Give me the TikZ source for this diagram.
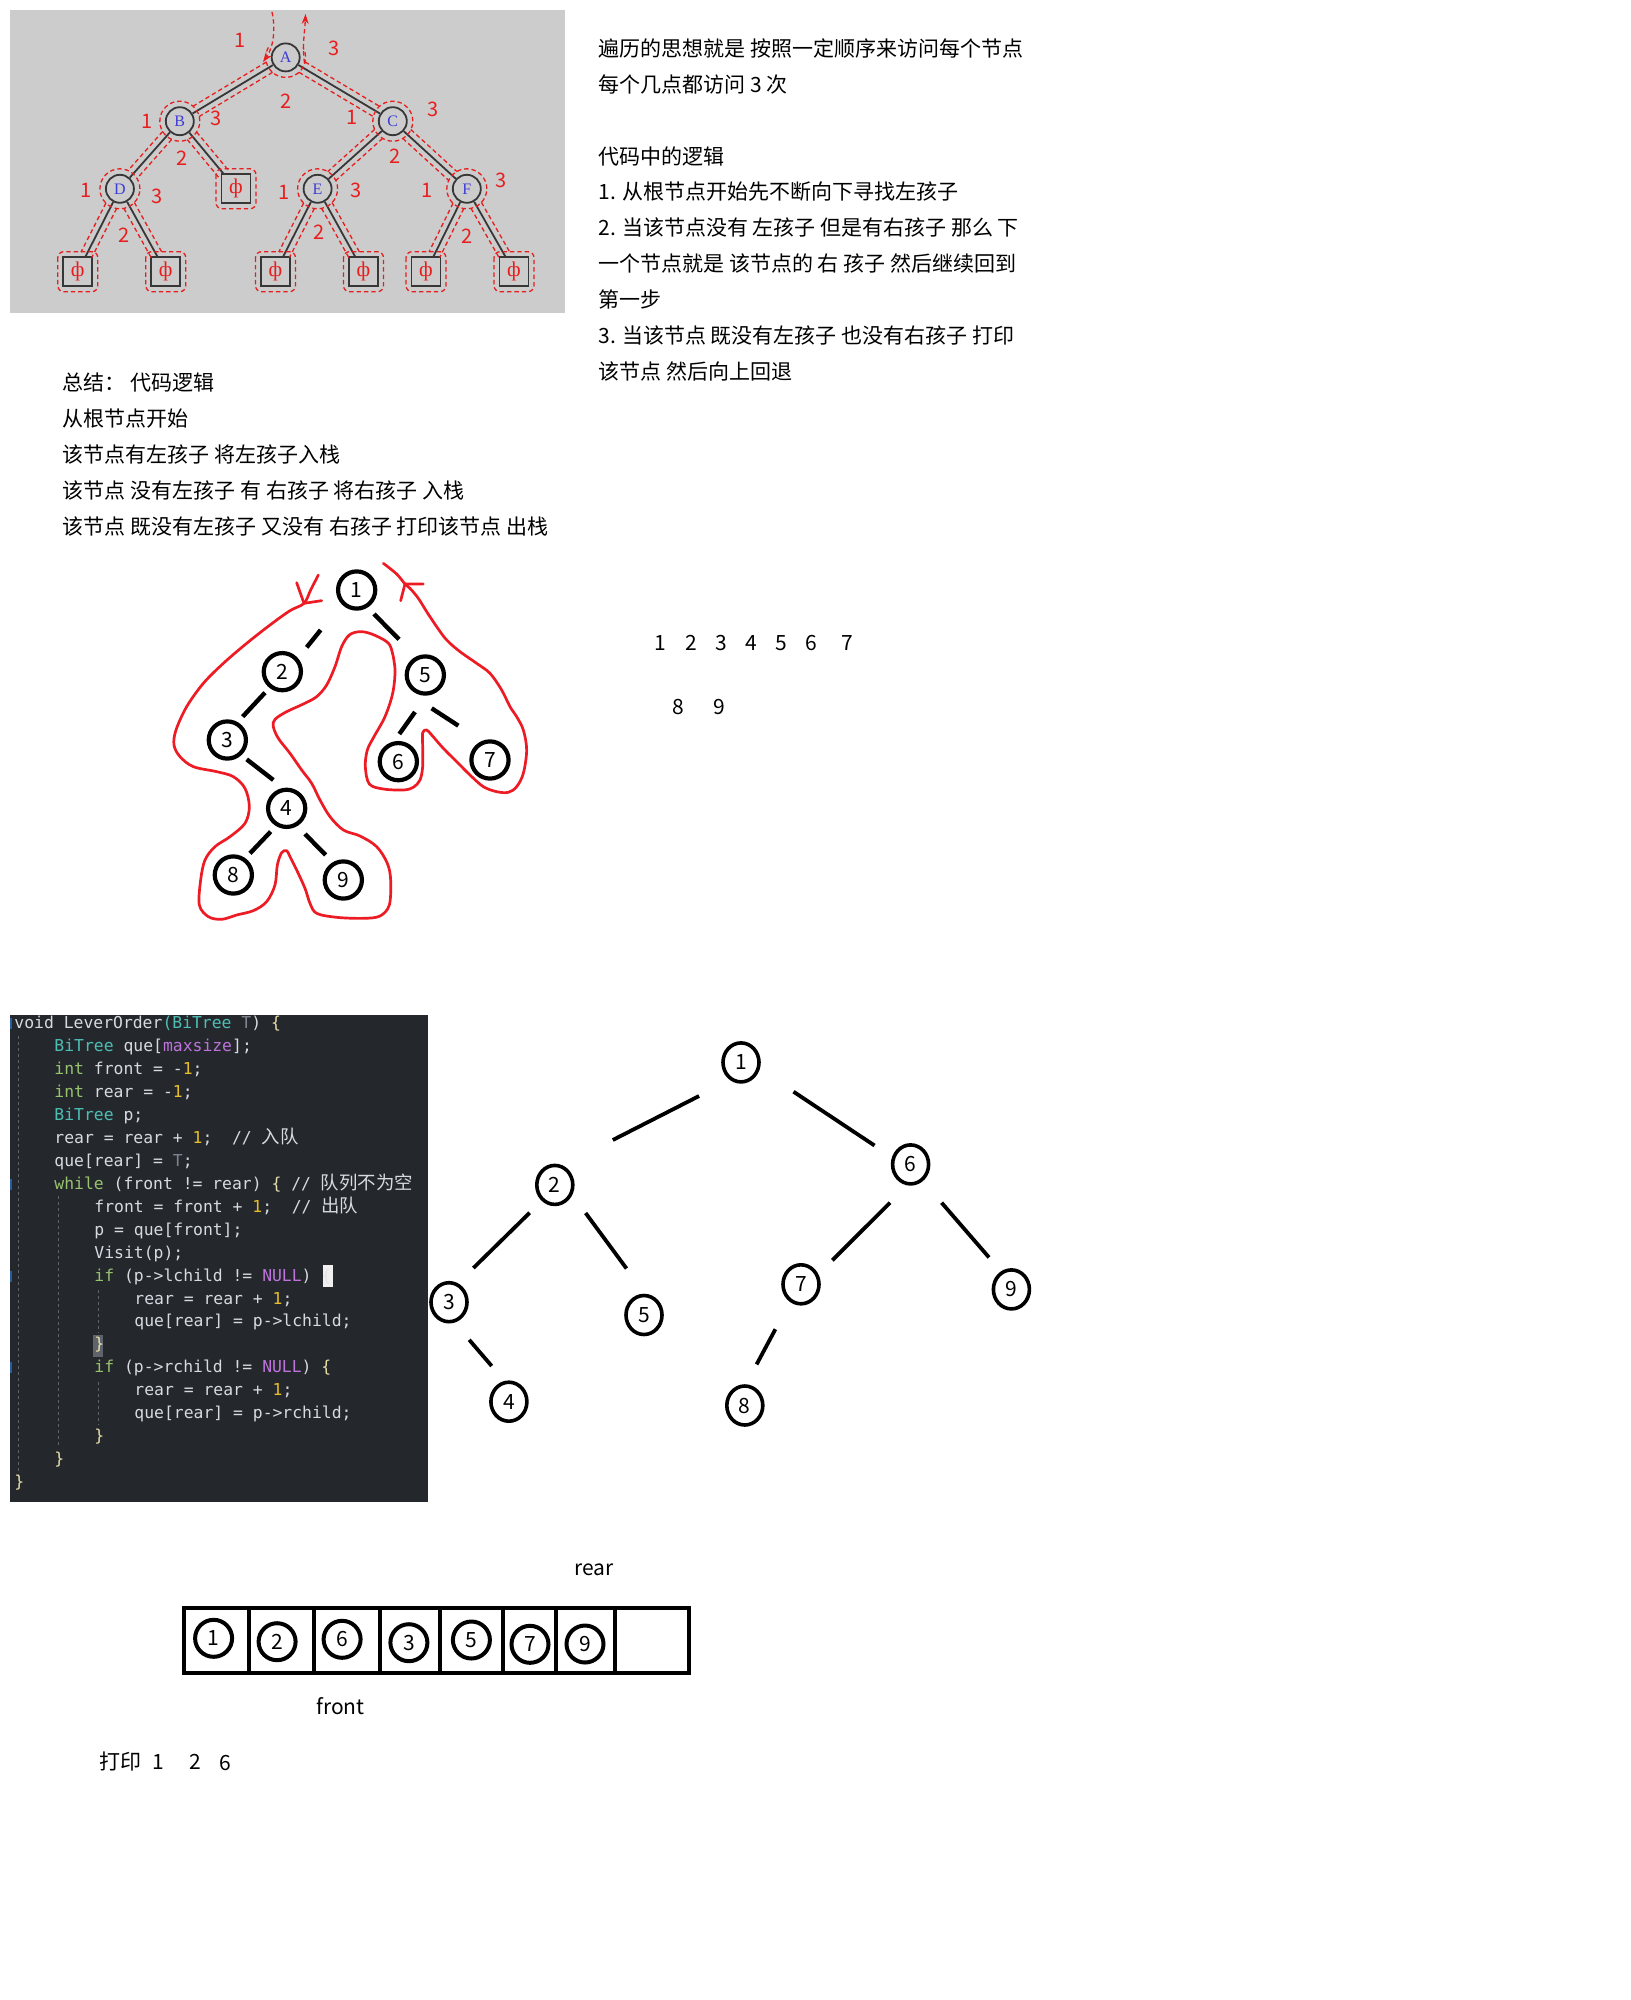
\documentclass[tikz,border=0pt]{standalone}
\usepackage{fontspec}
\setmainfont{Noto Sans CJK SC}
\setmonofont{DejaVu Sans Mono}
\newfontfamily\cjk{Noto Sans CJK SC}
\newfontfamily\tms{Liberation Serif}
\usetikzlibrary{calc,arrows.meta,shapes.geometric}
\definecolor{ggbg}{RGB}{204,204,204}
\definecolor{ggdraw}{RGB}{55,55,55}
\definecolor{gblue}{RGB}{60,60,215}
\definecolor{gred}{RGB}{232,30,30}
\definecolor{penred}{RGB}{237,28,36}
\definecolor{codebg}{RGB}{36,40,45}
\definecolor{cdefc}{RGB}{215,218,224}
\definecolor{ckwc}{RGB}{152,195,110}
\definecolor{ctyc}{RGB}{78,190,180}
\definecolor{cpurc}{RGB}{190,115,220}
\definecolor{cnumc}{RGB}{232,190,40}
\definecolor{cdimc}{RGB}{127,132,142}
\definecolor{cbrc}{RGB}{232,222,170}
\definecolor{guidec}{RGB}{95,100,108}
\definecolor{gitblue}{RGB}{40,90,160}
\newcommand\ckw[1]{\textcolor{ckwc}{#1}}
\newcommand\cty[1]{\textcolor{ctyc}{#1}}
\newcommand\cpur[1]{\textcolor{cpurc}{#1}}
\newcommand\cnum[1]{\textcolor{cnumc}{#1}}
\newcommand\cdim[1]{\textcolor{cdimc}{#1}}
\newcommand\cbr[1]{\textcolor{cbrc}{#1}}
\newcommand\cjkc{\cjk\fontsize{9.2}{10}\selectfont}
\newcommand\gdedge[2]{%
  \draw[rdash, shorten <=9.5pt, shorten >=9.5pt] ($(#1.center)!3pt!90:(#2.center)$) -- ($(#2.center)!3pt!-90:(#1.center)$);
  \draw[rdash, shorten <=9.5pt, shorten >=9.5pt] ($(#1.center)!3pt!-90:(#2.center)$) -- ($(#2.center)!3pt!90:(#1.center)$);}
\begin{document}
\begin{tikzpicture}[x=0.5pt,y=-0.5pt,
  every node/.style={inner sep=0pt},
  txt/.style={anchor=base west, font=\fontsize{10.5}{12}\selectfont},
  gnode/.style={circle, draw=ggdraw, fill=ggbg, line width=0.9pt, minimum size=14pt, font=\tms\fontsize{8}{9}\selectfont, text=gblue},
  gleaf/.style={rectangle, draw=ggdraw, line width=0.9pt, minimum size=14.5pt, font=\tms\fontsize{10.5}{12}\selectfont, text=gred},
  tedge/.style={draw=ggdraw, line width=0.9pt},
  rdash/.style={draw=gred, line width=0.65pt, dash pattern=on 2.2pt off 1.5pt},
  rlab/.style={text=gred, font=\fontsize{10}{12}\selectfont},
  hnode/.style={circle, draw=black, line width=2.1pt, minimum size=18.6pt, font=\fontsize{10.5}{12}\selectfont},
  hseg/.style={line width=2.2pt},
  redpen/.style={draw=penred, line width=1.35pt, line join=round, line cap=round},
  lnode/.style={ellipse, draw=black, line width=1.8pt, minimum width=18pt, minimum height=19.5pt, font=\fontsize{10.5}{12}\selectfont},
  lseg/.style={line width=1.9pt},
  qnode/.style={circle, draw=black, line width=2pt, minimum size=18.5pt, font=\fontsize{10.5}{12}\selectfont},
  codeline/.style={anchor=base west, text=cdefc, font=\ttfamily\fontsize{8.2}{10}\selectfont},
  guide/.style={draw=guidec, line width=0.5pt, dash pattern=on 1.5pt off 1.5pt}]
\path[use as bounding box, fill=white] (0,0) rectangle (1630,2000);

% ---------------- gray tree panel ----------------
\fill[ggbg] (10,10) rectangle (565,312.7);
\node[gnode] (A) at (285.7,57.4) {A};
\node[gnode] (B) at (179.8,121.2) {B};
\node[gnode] (C) at (392.8,121.2) {C};
\node[gnode] (D) at (119.9,188.8) {D};
\node[gnode] (E) at (317.6,188.8) {E};
\node[gnode] (F) at (466.8,188.8) {F};
\node[gleaf] (P0) at (236,188.8) {ф};
\node[gleaf] (L1) at (77.8,271.7) {ф};
\node[gleaf] (L2) at (165.8,271.7) {ф};
\node[gleaf] (L3) at (275.5,271.7) {ф};
\node[gleaf] (L4) at (363.5,271.7) {ф};
\node[gleaf] (L5) at (426,271.7) {ф};
\node[gleaf] (L6) at (514,271.7) {ф};
\draw[tedge] (A) -- (B);
\draw[tedge] (A) -- (C);
\draw[tedge] (B) -- (D);
\draw[tedge] (B) -- (P0);
\draw[tedge] (D) -- (L1);
\draw[tedge] (D) -- (L2);
\draw[tedge] (C) -- (E);
\draw[tedge] (C) -- (F);
\draw[tedge] (E) -- (L3);
\draw[tedge] (E) -- (L4);
\draw[tedge] (F) -- (L5);
\draw[tedge] (F) -- (L6);
\draw[rdash] ([shift={(150:10pt)}]A.center) arc[start angle=150, end angle=390, radius=10pt];
\foreach \n in {B,C,D,E,F} {\draw[rdash] (\n.center) circle[radius=10pt];}
\foreach \n in {P0,L1,L2,L3,L4,L5,L6} {\draw[rdash, rounded corners=3pt] ($(\n.center)+(-20,-20)$) rectangle ($(\n.center)+(20,20)$);}
\gdedge{A}{B}\gdedge{A}{C}\gdedge{B}{D}\gdedge{B}{P0}\gdedge{D}{L1}\gdedge{D}{L2}
\gdedge{C}{E}\gdedge{C}{F}\gdedge{E}{L3}\gdedge{E}{L4}\gdedge{F}{L5}\gdedge{F}{L6}
\coordinate (arrIn) at (272,12);
\coordinate (arrInTip) at (263,62);
\coordinate (arrOut) at (304.5,63);
\coordinate (arrOutTip) at (305.5,14);
\draw[rdash, -{Stealth[length=5pt,width=3.5pt]}] (arrIn) .. controls (276,30) and (273,48) .. (arrInTip);
\draw[rdash, -{Stealth[length=5pt,width=3.5pt]}] (arrOut) .. controls (302,45) and (305,30) .. (arrOutTip);
\node[rlab] (a1) at (240,40.8) {1};
\node[rlab] (a3) at (334,48.5) {3};
\node[rlab] (a2) at (285.8,101.7) {2};
\node[rlab] (b1) at (147.3,121.7) {1};
\node[rlab] (b3) at (215.6,118.3) {3};
\node[rlab] (b2) at (181.8,158.3) {2};
\node[rlab] (c1) at (352,117.3) {1};
\node[rlab] (c3) at (432.7,109.3) {3};
\node[rlab] (c2) at (394.9,156) {2};
\node[rlab] (d1) at (86.2,190) {1};
\node[rlab] (d3) at (157,196) {3};
\node[rlab] (d2) at (123.6,235.7) {2};
\node[rlab] (e1) at (284.4,192.7) {1};
\node[rlab] (e3) at (356.4,190.7) {3};
\node[rlab] (e2) at (319.3,232.3) {2};
\node[rlab] (f1) at (427.3,190) {1};
\node[rlab] (f3) at (501,180) {3};
\node[rlab] (f2) at (467.3,236) {2};

% ---------------- right text ----------------
\node[txt] (r0) at (598,56.3) {遍历的思想就是 按照一定顺序来访问每个节点};
\node[txt] (r1) at (598,92.2) {每个几点都访问 3 次};
\node[txt] (r3) at (598,164.1) {代码中的逻辑};
\node[txt] (r4) at (598,200.0) {1. 从根节点开始先不断向下寻找左孩子};
\node[txt] (r5) at (598,235.9) {2. 当该节点没有 左孩子 但是有右孩子 那么 下};
\node[txt] (r6) at (598,271.9) {一个节点就是 该节点的 右 孩子 然后继续回到};
\node[txt] (r7) at (598,307.8) {第一步};
\node[txt] (r8) at (598,343.7) {3. 当该节点 既没有左孩子 也没有右孩子 打印};
\node[txt] (r9) at (598,379.7) {该节点 然后向上回退};

% ---------------- summary ----------------
\node[txt] (s0) at (62.5,391) {总结： 代码逻辑};
\node[txt] (s1) at (62.5,426.9) {从根节点开始};
\node[txt] (s2) at (62.5,462.8) {该节点有左孩子 将左孩子入栈};
\node[txt] (s3) at (62.5,498.7) {该节点 没有左孩子 有 右孩子 将右孩子 入栈};
\node[txt] (s4) at (62.5,534.6) {该节点 既没有左孩子 又没有 右孩子 打印该节点 出栈};

% ---------------- hand drawn tree ----------------
\begin{scope}[shift={(150,560)}, scale=1/3]
\node[hnode] (h1) at (620,90) {1};
\node[hnode] (h2) at (397,335) {2};
\node[hnode] (h3) at (232,540) {3};
\node[hnode] (h4) at (410,745) {4};
\node[hnode] (h5) at (826,345) {5};
\node[hnode] (h6) at (745,605) {6};
\node[hnode] (h7) at (1020,600) {7};
\node[hnode] (h8) at (250,945) {8};
\node[hnode] (h9) at (580,960) {9};
\coordinate (h12a) at (470,262); \coordinate (h12b) at (512,210);
\coordinate (h15a) at (672,162); \coordinate (h15b) at (747,238);
\coordinate (h23a) at (278,470); \coordinate (h23b) at (345,398);
\coordinate (h34a) at (290,598); \coordinate (h34b) at (370,660);
\coordinate (h56a) at (748,522); \coordinate (h56b) at (795,456);
\coordinate (h57a) at (845,445); \coordinate (h57b) at (925,497);
\coordinate (h48a) at (300,880); \coordinate (h48b) at (362,815);
\coordinate (h49a) at (465,822); \coordinate (h49b) at (527,885);
\draw[hseg] (h12a) -- (h12b);
\draw[hseg] (h15a) -- (h15b);
\draw[hseg] (h23a) -- (h23b);
\draw[hseg] (h34a) -- (h34b);
\draw[hseg] (h56a) -- (h56b);
\draw[hseg] (h57a) -- (h57b);
\draw[hseg] (h48a) -- (h48b);
\draw[hseg] (h49a) -- (h49b);
\draw[redpen] plot[smooth, tension=0.55] coordinates {
 (505,45) (482,90) (462,130) (420,152) (360,195) (290,250) (220,310) (160,370) (110,440) (78,510)
 (72,555) (90,590) (130,620) (200,635) (250,650) (285,685) (298,740) (285,790) (240,830)
 (195,860) (165,900) (152,960) (148,1035) (175,1070) (215,1078) (260,1065) (310,1052)
 (350,1025) (375,975) (382,915) (395,878) (410,872) (420,890) (440,930) (465,985)
 (480,1030) (500,1060) (560,1072) (640,1075) (690,1068) (718,1035) (722,960) (712,910)
 (680,860) (630,828) (580,810) (540,770) (510,720) (485,670) (455,630) (420,580)
 (385,535) (370,500) (375,478) (410,455) (460,432) (500,410) (530,375) (555,320)
 (575,260) (598,225) (630,215) (665,222) (710,245) (725,270) (735,330) (728,400)
 (705,470) (672,530) (652,570) (646,620) (658,672) (700,687) (760,690) (790,682)
 (810,660) (818,620) (818,560) (818,518) (830,510) (845,525) (880,565) (920,605)
 (960,645) (1000,680) (1040,695) (1075,697) (1100,680) (1120,640) (1130,570)
 (1120,510) (1100,470) (1080,440) (1055,390) (1020,340) (980,310) (930,275) (890,240)
 (860,200) (830,155) (805,115) (780,85) (765,72) (740,42) (700,10)};
\coordinate (hlA) at (440,68); \coordinate (hlT) at (462,130); \coordinate (hlB) at (515,122);
\coordinate (hrA) at (752,122); \coordinate (hrT) at (765,72); \coordinate (hrB) at (820,72);
\draw[redpen] (hlA) -- (hlT) -- (hlB);
\draw[redpen] (hrA) -- (hrT) -- (hrB);
\end{scope}

% ---------------- numbers ----------------
\foreach \d/\xx in {1/660,2/691,3/721,4/751,5/781,6/811,7/847}
  {\node[font=\fontsize{10.5}{12}\selectfont] (num\d) at (\xx,643) {\d};}
\node[font=\fontsize{10.5}{12}\selectfont] (num8) at (678,707) {8};
\node[font=\fontsize{10.5}{12}\selectfont] (num9) at (719,707) {9};

% ---------------- code block ----------------
\fill[codebg] (10,1014.5) rectangle (428,1501.7);
\draw[guide] (18.3,1036) -- (18.3,1477);
\draw[guide] (58.3,1196) -- (58.3,1447);
\draw[guide] (98.3,1290) -- (98.3,1333);
\draw[guide] (98.3,1382) -- (98.3,1425);
\foreach \k in {0,7,11,15} {\fill[gitblue] (10,1018+22.96*\k) rectangle (12,1029+22.96*\k);}
\fill[white!88!gray] (322.5,1265) rectangle (332.7,1286.7);
\fill[guidec] (92.7,1335) rectangle (102.7,1356.7);
\node[codeline] (k0) at (14,1028.5) {void LeverOrder\cty{(}\cty{BiTree} \cdim{T}) \cbr{\{}};
\node[codeline] (k1) at (54,1051.46) {\cty{BiTree} que[\cpur{maxsize}];};
\node[codeline] (k2) at (54,1074.42) {\ckw{int} front = -\cnum{1};};
\node[codeline] (k3) at (54,1097.38) {\ckw{int} rear = -\cnum{1};};
\node[codeline] (k4) at (54,1120.34) {\cty{BiTree} p;};
\node[codeline] (k5) at (54,1143.3) {rear = rear + \cnum{1};~~// {\cjkc 入队}};
\node[codeline] (k6) at (54,1166.26) {que[rear] = \cdim{T};};
\node[codeline] (k7) at (54,1189.22) {\ckw{while} (front != rear) \cbr{\{} // {\cjkc 队列不为空}};
\node[codeline] (k8) at (94,1212.18) {front = front + \cnum{1};~~// {\cjkc 出队}};
\node[codeline] (k9) at (94,1235.14) {p = que[front];};
\node[codeline] (k10) at (94,1258.1) {Visit(p);};
\node[codeline] (k11) at (94,1281.06) {\ckw{if} (p->lchild != \cpur{NULL}) \textcolor{white!80!gray}{\{}};
\node[codeline] (k12) at (134,1304.02) {rear = rear + \cnum{1};};
\node[codeline] (k13) at (134,1326.98) {que[rear] = p->lchild;};
\node[codeline] (k14) at (94,1349.94) {\cbr{\}}};
\node[codeline] (k15) at (94,1372.9) {\ckw{if} (p->rchild != \cpur{NULL}) \cbr{\{}};
\node[codeline] (k16) at (134,1395.86) {rear = rear + \cnum{1};};
\node[codeline] (k17) at (134,1418.82) {que[rear] = p->rchild;};
\node[codeline] (k18) at (94,1441.78) {\cbr{\}}};
\node[codeline] (k19) at (54,1464.74) {\cbr{\}}};
\node[codeline] (k20) at (14,1487.7) {\cbr{\}}};

% ---------------- lower tree ----------------
\node[lnode] (l1) at (741,1062.4) {1};
\node[lnode] (l2) at (554.8,1184.9) {2};
\node[lnode] (l6) at (910.6,1164.4) {6};
\node[lnode] (l3) at (449,1302.2) {3};
\node[lnode] (l5) at (644,1315) {5};
\node[lnode] (l7) at (801,1284.3) {7};
\node[lnode] (l9) at (1011.4,1289.4) {9};
\node[lnode] (l4) at (508.9,1401.7) {4};
\node[lnode] (l8) at (744.8,1405.5) {8};
\coordinate (l12a) at (699.1,1096); \coordinate (l12b) at (612.8,1140);
\coordinate (l16a) at (793.5,1091.7); \coordinate (l16b) at (874.5,1145.5);
\coordinate (l23a) at (529.6,1212.8); \coordinate (l23b) at (473.4,1268);
\coordinate (l25a) at (585.6,1213); \coordinate (l25b) at (626.5,1268.5);
\coordinate (l67a) at (890,1202.7); \coordinate (l67b) at (832.3,1260.3);
\coordinate (l69a) at (941.6,1202.7); \coordinate (l69b) at (989,1257.4);
\coordinate (l34a) at (469.2,1339.8); \coordinate (l34b) at (491.7,1366);
\coordinate (l78a) at (775.4,1329.2); \coordinate (l78b) at (756.6,1364.4);
\draw[lseg] (l12a) -- (l12b);
\draw[lseg] (l16a) -- (l16b);
\draw[lseg] (l23a) -- (l23b);
\draw[lseg] (l25a) -- (l25b);
\draw[lseg] (l67a) -- (l67b);
\draw[lseg] (l69a) -- (l69b);
\draw[lseg] (l34a) -- (l34b);
\draw[lseg] (l78a) -- (l78b);

% ---------------- queue ----------------
\node[font=\fontsize{10.5}{12}\selectfont] (rear) at (594,1569.5) {rear};
\draw[line width=2pt] (184.4,1607.7) rectangle (689.3,1672.6);
\foreach \xx in {248.6,313.6,379.6,439.6,502.9,556.4,614.6} {\draw[line width=2pt] (\xx,1607.7) -- (\xx,1672.6);}
\node[qnode] (q1) at (213.6,1638.3) {1};
\node[qnode] (q2) at (277.1,1641.7) {2};
\node[qnode] (q6) at (342.1,1639.3) {6};
\node[qnode] (q3) at (408.9,1642.7) {3};
\node[qnode] (q5) at (471.4,1640) {5};
\node[qnode] (q7) at (530,1644.3) {\raisebox{-2pt}{7}};
\node[qnode] (q9) at (585,1644) {9};
\node[font=\fontsize{10.5}{12}\selectfont] (front) at (340.5,1706.5) {front};
\node[font=\fontsize{10.5}{12}\selectfont] (print) at (120,1761.5) {打印};
\node[font=\fontsize{10.5}{12}\selectfont] (p1) at (158.3,1761.5) {1};
\node[font=\fontsize{10.5}{12}\selectfont] (p2) at (195,1761.5) {2};
\node[font=\fontsize{10.5}{12}\selectfont] (p6) at (225,1763) {6};
\end{tikzpicture}
\end{document}
